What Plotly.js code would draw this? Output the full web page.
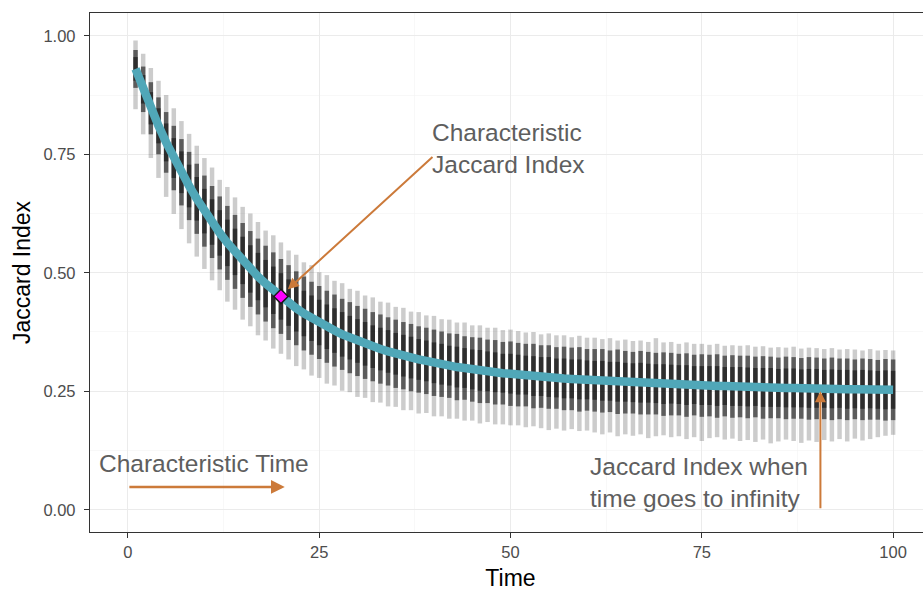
<!DOCTYPE html>
<html>
<head>
<meta charset="utf-8">
<script src="https://cdn.plot.ly/plotly-3.0.1.min.js"></script>
<style>
html,body{margin:0;padding:0;overflow:hidden;background:#fff;width:923px;height:591px;}
#chart{width:940px;height:591px;}
</style>
</head>
<body>
<div id="chart"></div>
<script>
// Time points
const time = [1,2,3,4,5,6,7,8,9,10,11,12,13,14,15,16,17,18,19,20,21,22,23,24,25,26,27,28,29,30,31,32,33,34,35,36,37,38,39,40,41,42,43,44,45,46,47,48,49,50,51,52,53,54,55,56,57,58,59,60,61,62,63,64,65,66,67,68,69,70,71,72,73,74,75,76,77,78,79,80,81,82,83,84,85,86,87,88,89,90,91,92,93,94,95,96,97,98,99,100];

// Fitted curve (teal line)
const fitted = [0.930,0.887,0.847,0.810,0.775,0.742,0.712,0.683,0.656,0.630,
0.607,0.584,0.563,0.544,0.526,0.508,0.492,0.477,0.463,0.450,
0.437,0.425,0.414,0.404,0.395,0.386,0.378,0.370,0.363,0.356,
0.350,0.344,0.339,0.334,0.329,0.325,0.321,0.317,0.314,0.310,
0.307,0.304,0.301,0.299,0.296,0.294,0.292,0.290,0.288,0.287,
0.285,0.284,0.282,0.281,0.280,0.278,0.277,0.276,0.275,0.274,
0.273,0.272,0.271,0.270,0.269,0.268,0.268,0.267,0.266,0.265,
0.265,0.264,0.263,0.263,0.262,0.262,0.261,0.261,0.260,0.260,
0.259,0.259,0.258,0.258,0.257,0.257,0.257,0.256,0.256,0.256,
0.255,0.255,0.255,0.254,0.254,0.254,0.254,0.253,0.253,0.253];

// Dense part of each time's point cloud (half-height)
const coreHalf = [0.040,0.048,0.055,0.060,0.064,0.068,0.070,0.072,0.074,0.075,
0.076,0.077,0.078,0.078,0.079,0.080,0.080,0.080,0.080,0.079,
0.079,0.078,0.078,0.077,0.077,0.076,0.076,0.075,0.075,0.074,
0.074,0.073,0.073,0.072,0.072,0.071,0.071,0.070,0.070,0.070,
0.069,0.068,0.070,0.067,0.068,0.069,0.067,0.068,0.066,0.068,
0.067,0.066,0.068,0.066,0.067,0.065,0.067,0.066,0.068,0.065,
0.066,0.067,0.065,0.068,0.066,0.065,0.067,0.066,0.065,0.067,
0.066,0.065,0.067,0.064,0.066,0.065,0.067,0.064,0.066,0.065,
0.066,0.064,0.066,0.065,0.064,0.066,0.065,0.064,0.066,0.065,
0.064,0.066,0.064,0.065,0.063,0.065,0.064,0.063,0.065,0.064];

// Darkest centre of each time's point cloud (half-height)
const innerHalf = [0.025,0.030,0.034,0.037,0.040,0.042,0.044,0.045,0.046,0.047,
0.048,0.048,0.049,0.049,0.050,0.050,0.050,0.050,0.050,0.049,
0.049,0.049,0.048,0.048,0.048,0.047,0.047,0.047,0.046,0.046,
0.046,0.045,0.045,0.045,0.044,0.044,0.044,0.043,0.043,0.043,
0.043,0.042,0.043,0.042,0.042,0.043,0.042,0.042,0.041,0.042,
0.042,0.041,0.042,0.041,0.042,0.041,0.042,0.041,0.042,0.041,
0.041,0.042,0.041,0.042,0.041,0.041,0.042,0.041,0.041,0.042,
0.041,0.041,0.042,0.040,0.041,0.041,0.042,0.040,0.041,0.041,
0.041,0.040,0.041,0.041,0.040,0.041,0.041,0.040,0.041,0.041,
0.040,0.041,0.040,0.041,0.040,0.041,0.040,0.040,0.041,0.040];

// Extent of sparse points above and below the fitted value
const outerUp = [0.060,0.075,0.085,0.095,0.100,0.105,0.108,0.110,0.112,0.112,
0.115,0.112,0.118,0.115,0.113,0.117,0.115,0.112,0.116,0.114,
0.110,0.113,0.108,0.112,0.106,0.109,0.105,0.108,0.103,0.106,
0.102,0.104,0.100,0.103,0.099,0.101,0.097,0.100,0.096,0.099,
0.095,0.097,0.094,0.096,0.093,0.095,0.092,0.094,0.091,0.093,
0.092,0.090,0.093,0.089,0.092,0.090,0.091,0.088,0.092,0.089,
0.090,0.088,0.091,0.087,0.090,0.088,0.089,0.087,0.096,0.088,
0.089,0.086,0.090,0.087,0.088,0.086,0.089,0.085,0.087,0.086,
0.088,0.085,0.087,0.084,0.086,0.085,0.087,0.084,0.086,0.085,
0.084,0.086,0.083,0.085,0.084,0.082,0.085,0.083,0.084,0.083];

const outerDown = [0.085,0.095,0.105,0.110,0.115,0.118,0.120,0.121,0.122,0.122,
0.123,0.121,0.124,0.122,0.125,0.121,0.124,0.120,0.123,0.121,
0.120,0.122,0.118,0.121,0.117,0.120,0.116,0.119,0.115,0.118,
0.114,0.117,0.113,0.116,0.112,0.115,0.111,0.114,0.110,0.113,
0.110,0.112,0.109,0.111,0.108,0.112,0.107,0.110,0.108,0.109,
0.107,0.110,0.106,0.109,0.112,0.107,0.110,0.106,0.109,0.107,
0.110,0.113,0.108,0.115,0.110,0.112,0.109,0.116,0.111,0.108,
0.112,0.109,0.114,0.110,0.117,0.111,0.108,0.113,0.110,0.115,
0.112,0.116,0.110,0.118,0.113,0.109,0.112,0.115,0.110,0.113,
0.108,0.111,0.106,0.110,0.104,0.108,0.105,0.100,0.097,0.095];

// Characteristic point
const charTime = [20];
const charJaccard = [0.45];

const xTicks = [0,25,50,75,100];
const yTicks = [0,0.25,0.5,0.75,1.0];

const orange = '#cc7a3a';
const annColor = '#5e5e5e';
const font = 'Liberation Sans, Arial, Helvetica, sans-serif';

function band(arr, arrMinus, color) {
  return {
    x: time, y: fitted, type: 'scatter', mode: 'markers',
    marker: {size: 1, color: 'rgba(0,0,0,0)'},
    error_y: {type: 'data', symmetric: !arrMinus, array: arr, arrayminus: arrMinus || arr,
      color: color, thickness: 4.5, width: 0},
    hoverinfo: 'skip', showlegend: false
  };
}

const traces = [
  band(outerUp, outerDown, 'rgba(0,0,0,0.2)'),
  band(coreHalf, null, 'rgba(0,0,0,0.55)'),
  band(innerHalf, null, 'rgba(0,0,0,0.5)'),
  {
    x: time, y: fitted, type: 'scatter', mode: 'lines',
    line: {color: '#50a7b8', width: 8.5},
    hoverinfo: 'skip', showlegend: false
  },
  {
    x: charTime, y: charJaccard, type: 'scatter', mode: 'markers',
    marker: {symbol: 'diamond', size: 11, color: '#ff00ff', line: {color: '#1a1a1a', width: 1.5}},
    showlegend: false
  }
];

const axisCommon = {
  showline: true, mirror: true, linecolor: '#333333', linewidth: 1.2,
  ticks: 'outside', ticklen: 5, tickwidth: 1.2, tickcolor: '#333333',
  tickfont: {family: font, size: 16.5, color: '#4d4d4d'},
  showgrid: true, gridcolor: '#ebebeb', gridwidth: 1, zeroline: false
};

const layout = {
  width: 940, height: 591,
  margin: {l: 90, r: 9, t: 13, b: 59},
  paper_bgcolor: '#ffffff', plot_bgcolor: '#ffffff',
  showlegend: false,
  xaxis: Object.assign({}, axisCommon, {
    range: [-4.95, 104.95], tickvals: xTicks, ticktext: xTicks.map(String),
    minor: {tickvals: [12.5,37.5,62.5,87.5], showgrid: true, gridcolor: '#f3f3f3', gridwidth: 0.6, ticks: ''},
    title: {text: 'Time', font: {family: font, size: 23, color: '#000'}, standoff: 11}
  }),
  yaxis: Object.assign({}, axisCommon, {
    range: [-0.047, 1.048], tickvals: yTicks, ticktext: yTicks.map(v => v.toFixed(2)),
    ticklabelstandoff: 5,
    minor: {tickvals: [0.125,0.375,0.625,0.875], showgrid: true, gridcolor: '#f3f3f3', gridwidth: 0.6, ticks: ''},
    title: {text: 'Jaccard Index', font: {family: font, size: 23, color: '#000'}, standoff: 6}
  }),
  annotations: [
    {x: 40, y: 0.762, xref: 'x', yref: 'y', text: 'Characteristic<br>Jaccard Index',
     showarrow: false, xanchor: 'left', yanchor: 'middle', align: 'left', xshift: -4,
     font: {family: font, size: 24.5, color: annColor}},
    {x: 20.9, y: 0.465, xref: 'x', yref: 'y', ax: 40, ay: 0.747, axref: 'x', ayref: 'y',
     text: '', showarrow: true, arrowhead: 2, arrowsize: 1.1, arrowwidth: 2, arrowcolor: orange},
    {x: 10, y: 0.097, xref: 'x', yref: 'y', text: 'Characteristic Time',
     showarrow: false, xanchor: 'center', yanchor: 'middle',
     font: {family: font, size: 24.5, color: annColor}},
    {x: 20.5, y: 0.048, xref: 'x', yref: 'y', ax: 0, ay: 0.048, axref: 'x', ayref: 'y',
     text: '', showarrow: true, arrowhead: 2, arrowsize: 1.1, arrowwidth: 2.5, arrowcolor: orange},
    {x: 74.6, y: 0.058, xref: 'x', yref: 'y', text: 'Jaccard Index when<br>time goes to infinity',
     showarrow: false, xanchor: 'center', yanchor: 'middle', align: 'left',
     font: {family: font, size: 24.5, color: annColor}},
    {x: 90.5, y: 0.25, xref: 'x', yref: 'y', ax: 90.5, ay: 0, axref: 'x', ayref: 'y',
     text: '', showarrow: true, arrowhead: 2, arrowsize: 1.1, arrowwidth: 2, arrowcolor: orange}
  ]
};

Plotly.newPlot('chart', traces, layout, {displayModeBar: false, staticPlot: true});
</script>
</body>
</html>
